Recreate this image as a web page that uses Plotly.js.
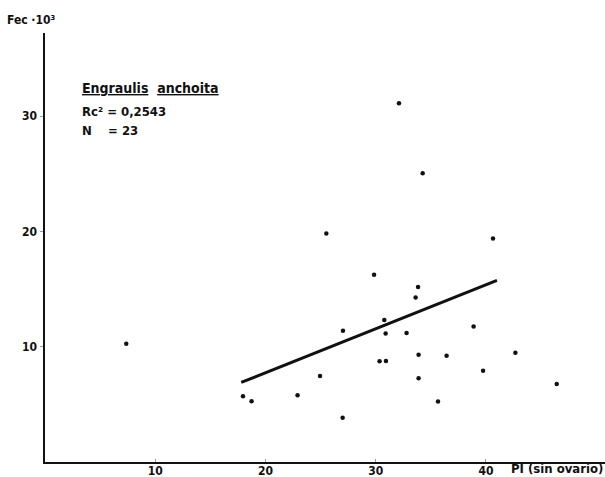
<!DOCTYPE html>
<html>
<head>
<meta charset="utf-8">
<script src="https://cdn.plot.ly/plotly-3.0.1.min.js"></script>
<style>html,body{margin:0;padding:0;background:#fff;}#chart{width:605px;height:477px;}</style>
</head>
<body>
<div id="chart"></div>
<script>
// Points: PI (sin ovario) vs Fec x10^3
var pi  = [7.37, 17.96, 18.74, 22.91, 24.95, 25.52, 27.03, 27.0, 29.85, 30.35, 30.93, 30.78, 30.90, 32.11, 32.80, 33.84, 33.62, 33.89, 33.89, 34.26, 35.65, 36.43, 38.88, 39.74, 40.64, 42.67, 46.42];
var fec = [10.26, 5.70, 5.26, 5.78, 7.46, 19.81, 11.39, 3.83, 16.23, 8.73, 8.76, 12.31, 11.15, 31.10, 11.19, 15.17, 14.27, 9.31, 7.26, 25.04, 5.24, 9.22, 11.76, 7.92, 19.38, 9.48, 6.77];
// Regression line end points
var lineX = [17.8, 41.0];
var lineY = [6.9, 15.75];
var xTicks = [10, 20, 30, 40];
var yTicks = [10, 20, 30];
var titleText = "<u>Engraulis</u>  <u>anchoita</u>";
var statText1 = "Rc² = 0,2543";
var statText2 = "N    = 23";
var yLabel = "Fec ·10³";
var xLabel = "PI (sin ovario)";

var F = "DejaVu Sans Condensed, DejaVu Sans, sans-serif";

var traces = [
  {x: pi, y: fec, type: 'scatter', mode: 'markers', marker: {color: '#111', size: 4.5}, hoverinfo: 'none'},
  {x: lineX, y: lineY, type: 'scatter', mode: 'lines', line: {color: '#111', width: 3}, hoverinfo: 'none'}
];

var layout = {
  width: 605, height: 477,
  margin: {l: 45, r: 0, t: 33, b: 15},
  paper_bgcolor: '#fff', plot_bgcolor: '#fff',
  showlegend: false,
  xaxis: {
    range: [0, 50.8], tickvals: xTicks, ticktext: xTicks.map(String),
    showgrid: false, zeroline: false, showline: true, linecolor: '#111', linewidth: 2,
    ticks: 'inside', ticklen: 3, tickcolor: '#999', tickwidth: 1,
    ticklabelstandoff: -3,
    tickfont: {family: F, size: 12, color: '#111', weight: 'bold'}
  },
  yaxis: {
    range: [0, 37.2], tickvals: yTicks, ticktext: yTicks.map(String),
    showgrid: false, zeroline: false, showline: true, linecolor: '#111', linewidth: 2.5,
    ticks: 'outside', ticklen: 3, tickcolor: '#999', tickwidth: 1,
    tickfont: {family: F, size: 12, color: '#111', weight: 'bold'}
  },
  annotations: [
    {xref: 'paper', yref: 'paper', x: 0.0625, y: 0.872, xanchor: 'left', yanchor: 'middle', showarrow: false,
     text: titleText, font: {family: F, size: 14, color: '#111', weight: 'bold'}},
    {xref: 'paper', yref: 'paper', x: 0.0625, y: 0.816, xanchor: 'left', yanchor: 'middle', showarrow: false,
     text: statText1, font: {family: F, size: 13, color: '#111', weight: 'bold'}},
    {xref: 'paper', yref: 'paper', x: 0.0625, y: 0.772, xanchor: 'left', yanchor: 'middle', showarrow: false,
     text: statText2, font: {family: F, size: 13, color: '#111', weight: 'bold'}},
    {xref: 'paper', yref: 'paper', x: -0.072, y: 1.03, xanchor: 'left', yanchor: 'middle', showarrow: false,
     text: yLabel, font: {family: F, size: 12, color: '#111', weight: 'bold'}},
    {xref: 'paper', yref: 'paper', x: 1.0, y: -0.014, xanchor: 'right', yanchor: 'middle', showarrow: false,
     text: xLabel, font: {family: F, size: 13, color: '#111', weight: 'bold'}}
  ]
};

Plotly.newPlot('chart', traces, layout, {staticPlot: true, displayModeBar: false});
</script>
</body>
</html>
